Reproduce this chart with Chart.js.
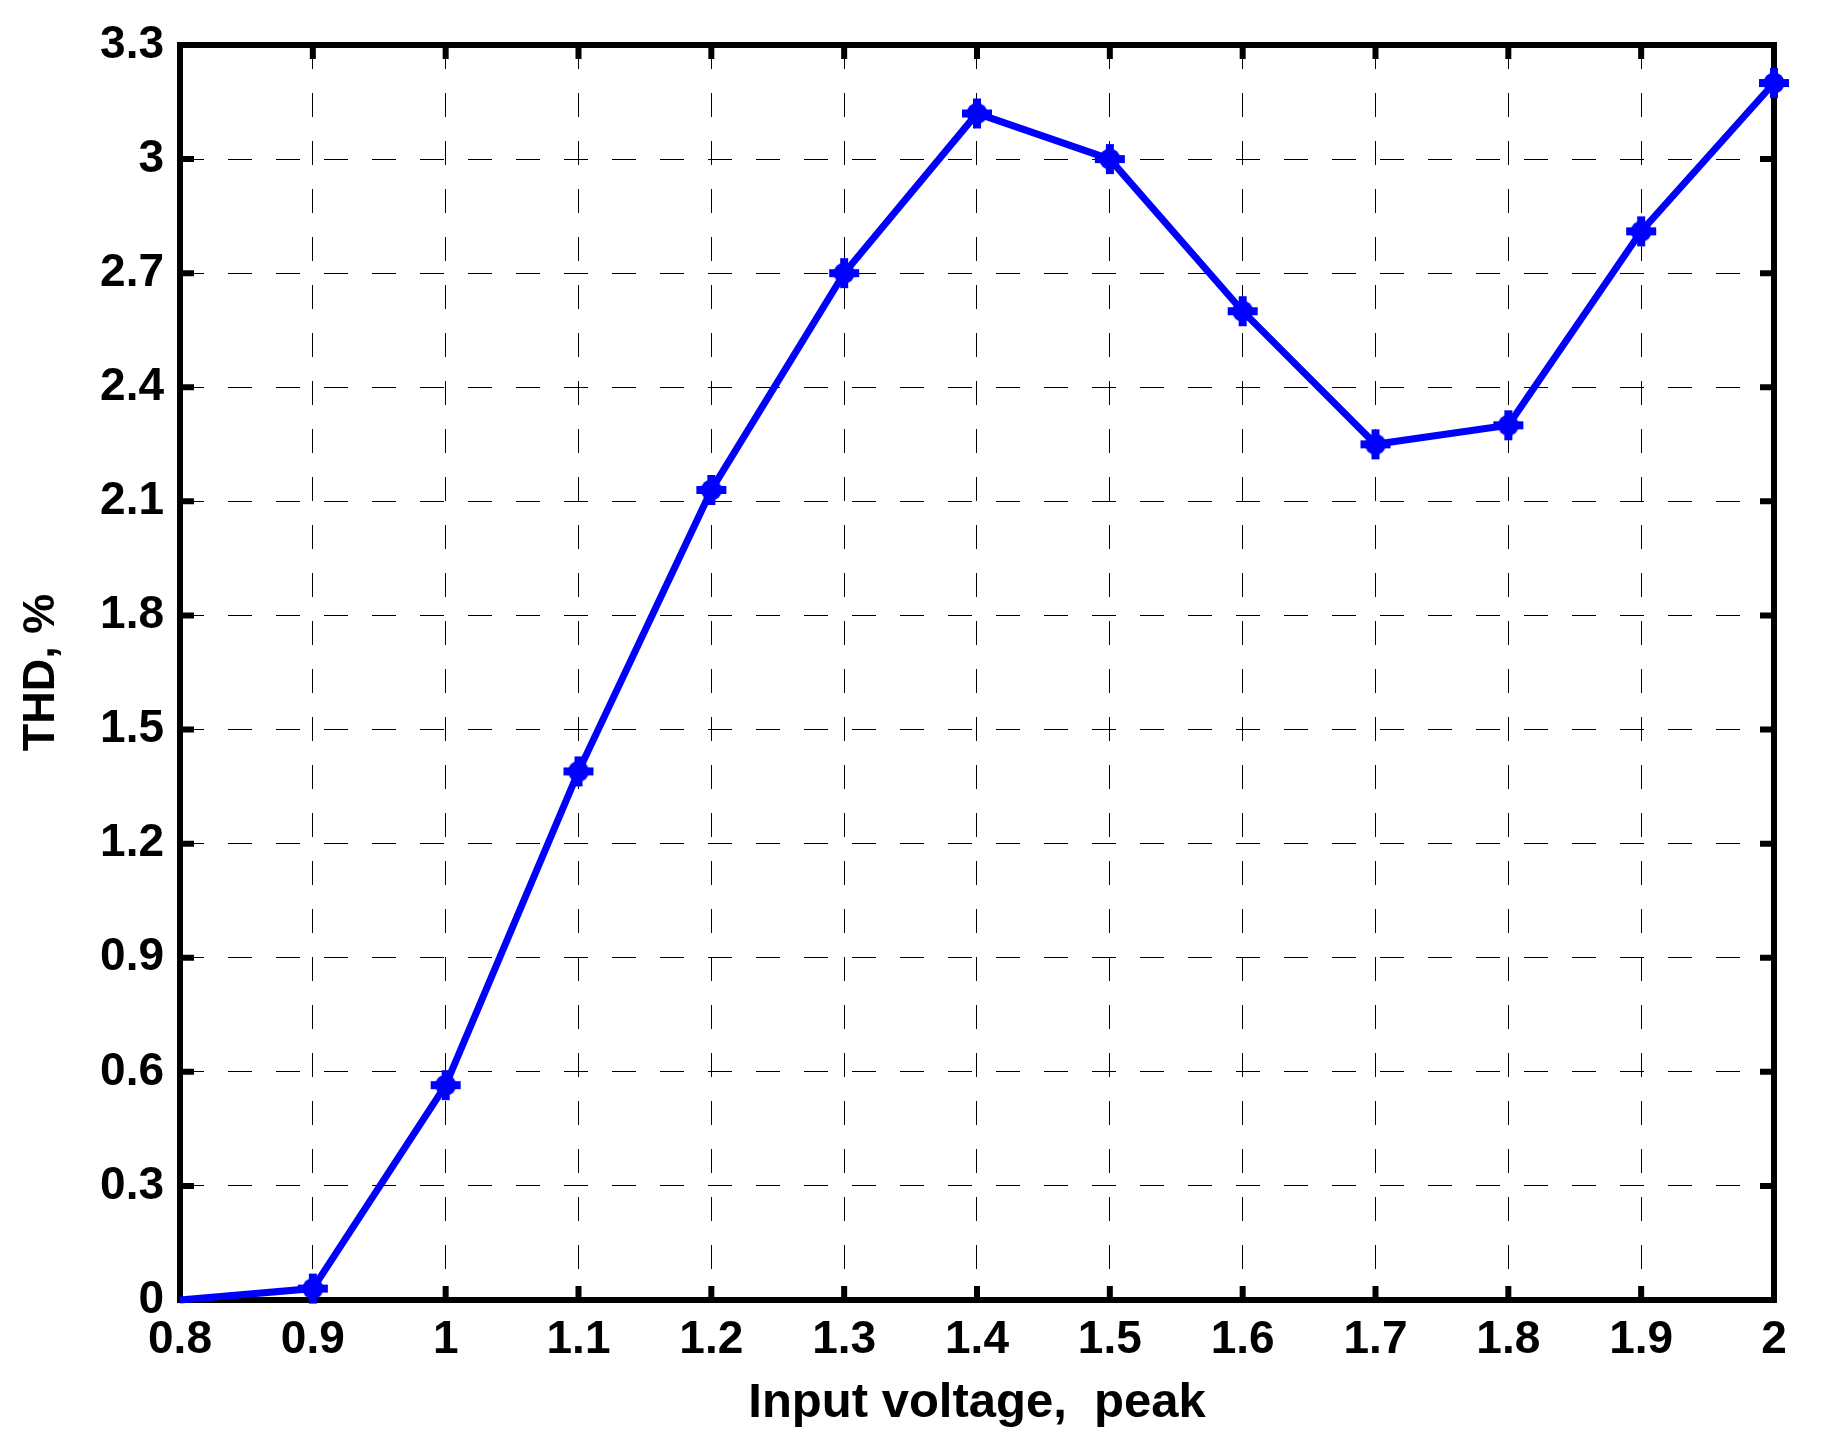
<!DOCTYPE html>
<html>
<head>
<meta charset="utf-8">
<script src="https://cdn.jsdelivr.net/npm/chart.js"></script>
<style>
  html, body { margin: 0; padding: 0; background: #fff; }
  #wrap { width: 1828px; height: 1444px; }
</style>
</head>
<body>
<div id="wrap"><canvas id="thd" width="1828" height="1444"></canvas></div>
<script>
// --- data ---
const inputVoltage = [0.8, 0.9, 1.0, 1.1, 1.2, 1.3, 1.4, 1.5, 1.6, 1.7, 1.8, 1.9, 2.0];
const thdPercent   = [0, 0.03, 0.565, 1.39, 2.13, 2.7, 3.12, 3.0, 2.6, 2.25, 2.3, 2.81, 3.2];

const xTickLabels = ["0.8", "0.9", "1", "1.1", "1.2", "1.3", "1.4", "1.5", "1.6", "1.7", "1.8", "1.9", "2"];
const yTickLabels = ["0", "0.3", "0.6", "0.9", "1.2", "1.5", "1.8", "2.1", "2.4", "2.7", "3", "3.3"];

const xTitle = "Input voltage,  peak";
const yTitle = "THD, %";

const FONT = "'Liberation Sans', Arial, Helvetica, sans-serif";
const BLUE = "#0000ff";

// marker: thick plus with a filled centre (MATLAB style)
function makeMarker() {
    const c = document.createElement("canvas");
    c.width = 32;
    c.height = 32;
    const g = c.getContext("2d");
    g.fillStyle = BLUE;
    g.fillRect(1, 12, 30, 8);
    g.fillRect(12, 1, 8, 30);
    g.beginPath();
    g.arc(16, 16, 10.5, 0, Math.PI * 2);
    g.fill();
    return c;
}

// frame box + inward tick marks, drawn under the data line
const frameBox = {
    id: "frameBox",
    beforeDatasetsDraw(chart) {
        const { ctx, chartArea: a, scales } = chart;
        const tickLen = 14;
        ctx.save();
        ctx.strokeStyle = "#000";
        ctx.lineWidth = 6;
        ctx.lineCap = "butt";
        ctx.beginPath();
        scales.x.ticks.forEach(t => {
            const px = scales.x.getPixelForValue(t.value);
            ctx.moveTo(px, a.bottom);
            ctx.lineTo(px, a.bottom - tickLen);
            ctx.moveTo(px, a.top);
            ctx.lineTo(px, a.top + tickLen);
        });
        scales.y.ticks.forEach(t => {
            const py = scales.y.getPixelForValue(t.value);
            ctx.moveTo(a.left, py);
            ctx.lineTo(a.left + tickLen, py);
            ctx.moveTo(a.right, py);
            ctx.lineTo(a.right - tickLen, py);
        });
        ctx.stroke();
        ctx.lineJoin = "miter";
        ctx.strokeRect(a.left, a.top, a.right - a.left, a.bottom - a.top);
        ctx.restore();
    }
};

Chart.defaults.font.family = FONT;
Chart.defaults.color = "#000";

new Chart(document.getElementById("thd"), {
    type: "line",
    data: {
        datasets: [{
            data: inputVoltage.map((v, i) => ({ x: v, y: thdPercent[i] })),
            borderColor: BLUE,
            backgroundColor: BLUE,
            borderWidth: 7,
            pointStyle: makeMarker(),
            // the first point (at the origin) carries no marker
            pointRadius: (ctx) => (ctx.dataIndex === 0 ? 0 : 15),
            tension: 0,
            clip: false
        }]
    },
    options: {
        responsive: false,
        devicePixelRatio: 1,
        animation: false,
        layout: { padding: { top: 45, right: 54, left: 0, bottom: 0 } },
        plugins: {
            legend: { display: false },
            tooltip: { enabled: false }
        },
        scales: {
            x: {
                type: "linear",
                min: 0.8,
                max: 2.0,
                afterFit: (s) => { s.height = 144; },
                ticks: {
                    stepSize: 0.1,
                    padding: 13,
                    maxRotation: 0,
                    autoSkip: false,
                    font: { size: 46, weight: "bold" },
                    callback: (v, i) => xTickLabels[i]
                },
                grid: { color: "#000", lineWidth: 1, drawTicks: false },
                border: { display: false, dash: [24, 24] },
                title: {
                    display: true,
                    text: xTitle,
                    font: { size: 49, weight: "bold" },
                    padding: { top: 0, bottom: 11 }
                }
            },
            y: {
                type: "linear",
                min: 0,
                max: 3.3,
                afterFit: (s) => { s.width = 180; },
                ticks: {
                    stepSize: 0.3,
                    padding: 16,
                    autoSkip: false,
                    font: { size: 46, weight: "bold" },
                    callback: (v, i) => yTickLabels[i]
                },
                grid: { color: "#000", lineWidth: 1, drawTicks: false },
                border: { display: false, dash: [24, 24] },
                title: {
                    display: true,
                    text: yTitle,
                    font: { size: 45, weight: "bold" },
                    padding: { top: 15, bottom: 0 }
                }
            }
        }
    },
    plugins: [frameBox]
});
</script>
</body>
</html>
